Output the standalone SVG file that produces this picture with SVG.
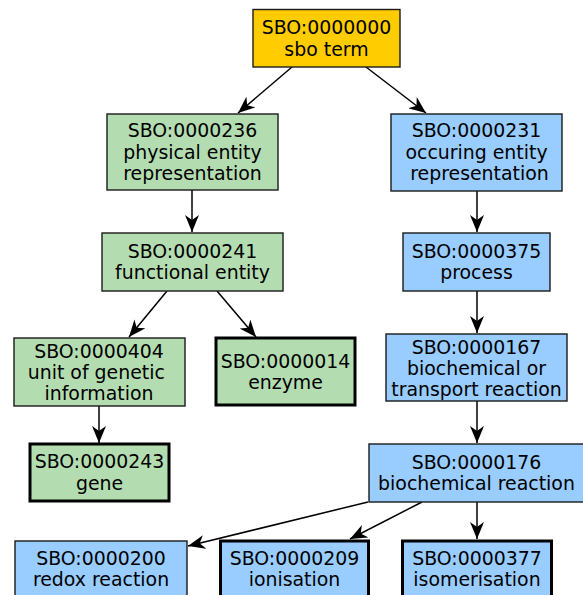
<svg xmlns="http://www.w3.org/2000/svg" width="583" height="595" viewBox="0 0 583 595">
<style>
  rect { stroke: #1a1a1a; stroke-width: 1.4; }
  .thick { stroke: #000; stroke-width: 3; }
  .g { fill: #b3ddb0; }
  .b { fill: #99ccff; }
  .y { fill: #ffcc00; }
  text { font-family: "DejaVu Sans", sans-serif; font-size: 18.9px; fill: #000; text-anchor: middle; }
  .edge { stroke: #000; stroke-width: 1.5; fill: none; marker-end: url(#arr); }
</style>
<defs>
  <marker id="arr" markerUnits="userSpaceOnUse" viewBox="0 0 17 14" refX="17" refY="7" markerWidth="17" markerHeight="14" orient="auto">
    <path d="M0,0 L17,7 L0,14 L5,7 z" fill="#000"/>
  </marker>
</defs>
<g id="connectors">
  <line class="edge" x1="292" y1="67" x2="238" y2="113"/>
  <line class="edge" x1="366" y1="67" x2="426" y2="113"/>
  <line class="edge" x1="192" y1="190" x2="192" y2="232"/>
  <line class="edge" x1="477" y1="191" x2="477" y2="232"/>
  <line class="edge" x1="167" y1="291" x2="129" y2="337"/>
  <line class="edge" x1="217" y1="291" x2="256" y2="337"/>
  <line class="edge" x1="477" y1="291" x2="477" y2="333"/>
  <line class="edge" x1="99" y1="406" x2="99" y2="443"/>
  <line class="edge" x1="477" y1="401" x2="477" y2="443"/>
  <line class="edge" x1="368" y1="502" x2="188" y2="546"/>
  <line class="edge" x1="422" y1="502" x2="350" y2="539"/>
  <line class="edge" x1="477" y1="502" x2="477" y2="539"/>
</g>
<g id="n0000000">
  <rect class="y" x="253" y="9.5" width="147" height="57.5"/>
  <text x="326.5" y="34">SBO:0000000</text>
  <text x="326.5" y="55.5">sbo term</text>
</g>
<g id="n0000236">
  <rect class="g" x="107" y="114" width="171" height="76"/>
  <text x="192.5" y="137">SBO:0000236</text>
  <text x="192.5" y="158.5">physical entity</text>
  <text x="192.5" y="180">representation</text>
</g>
<g id="n0000231">
  <rect class="b" x="391" y="114" width="171" height="77"/>
  <text x="476.5" y="137">SBO:0000231</text>
  <text x="476.5" y="158.5">occuring entity</text>
  <text x="479.5" y="180">representation</text>
</g>
<g id="n0000241">
  <rect class="g" x="102" y="233" width="181" height="58"/>
  <text x="192.5" y="257.5">SBO:0000241</text>
  <text x="192.5" y="279">functional entity</text>
</g>
<g id="n0000375">
  <rect class="b" x="403" y="233" width="147" height="58"/>
  <text x="476.5" y="257.5">SBO:0000375</text>
  <text x="476.5" y="279">process</text>
</g>
<g id="n0000404">
  <rect class="g" x="14" y="338" width="171" height="68"/>
  <text x="99" y="357.5">SBO:0000404</text>
  <text x="96.3" y="379">unit of genetic</text>
  <text x="99" y="400">information</text>
</g>
<g id="n0000014">
  <rect class="g thick" x="216" y="338" width="139" height="67"/>
  <text x="285.5" y="367.5">SBO:0000014</text>
  <text x="285.5" y="389">enzyme</text>
</g>
<g id="n0000167">
  <rect class="b" x="386" y="334" width="181" height="67"/>
  <text x="476.5" y="353.5">SBO:0000167</text>
  <text x="476.5" y="375">biochemical or</text>
  <text x="476.5" y="396">transport reaction</text>
</g>
<g id="n0000243">
  <rect class="g thick" x="30" y="444" width="139" height="57"/>
  <text x="99.5" y="468">SBO:0000243</text>
  <text x="99.5" y="489.5">gene</text>
</g>
<g id="n0000176">
  <rect class="b" x="369" y="444" width="216" height="58"/>
  <text x="476.5" y="468.5">SBO:0000176</text>
  <text x="476.5" y="490">biochemical reaction</text>
</g>
<g id="n0000200">
  <rect class="b" x="15" y="541" width="172" height="58"/>
  <text x="101" y="564.5">SBO:0000200</text>
  <text x="101" y="586">redox reaction</text>
</g>
<g id="n0000209">
  <rect class="b thick" x="220.5" y="541" width="148" height="58"/>
  <text x="294.5" y="564.5">SBO:0000209</text>
  <text x="294.5" y="586">ionisation</text>
</g>
<g id="n0000377">
  <rect class="b thick" x="402.5" y="541" width="149" height="58"/>
  <text x="477" y="564.5">SBO:0000377</text>
  <text x="477" y="586">isomerisation</text>
</g>
</svg>
